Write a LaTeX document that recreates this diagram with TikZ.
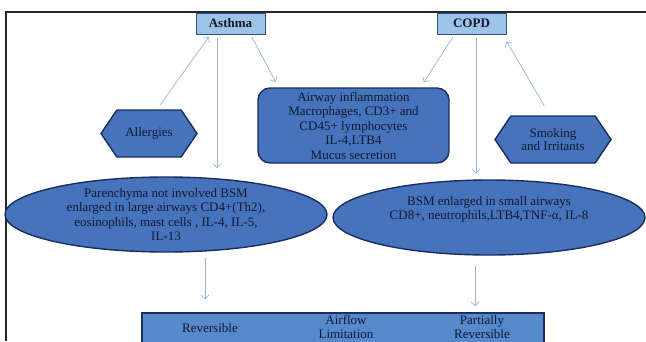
\documentclass[tikz,border=0pt]{standalone}
\usepackage{xcolor}
\usepackage{fontspec}
\setmainfont{Liberation Serif}
\usetikzlibrary{shapes.geometric,shapes.symbols,arrows.meta}
\definecolor{headfill}{RGB}{157,195,230}
\definecolor{headline}{RGB}{47,82,143}
\definecolor{cellfill}{RGB}{70,115,188}
\definecolor{cellline}{RGB}{25,45,95}
\definecolor{flowfill}{RGB}{86,136,204}
\definecolor{linkcol}{RGB}{150,180,212}
\definecolor{ink}{RGB}{15,25,50}
\definecolor{framecol}{RGB}{40,40,40}
\newcommand{\boxfont}{\fontsize{13}{14.5}\selectfont}
\tikzstyle{disease}=[draw=headline, fill=headfill, line width=1pt, minimum width=69pt, minimum height=21pt, inner sep=1pt, font=\boxfont\bfseries, text=ink]
\tikzstyle{trigger}=[signal, signal to=east and west, signal pointer angle=112, draw=cellline, fill=cellfill, line width=1.4pt, minimum width=96pt, minimum height=47pt, inner sep=1pt, align=center, font=\fontsize{13}{12.5}\selectfont, text=ink]
\tikzstyle{cell}=[rectangle, rounded corners=12pt, draw=cellline, fill=cellfill, line width=1.4pt, minimum width=191pt, minimum height=75pt, inner sep=1pt, align=center, font=\boxfont, text=ink]
\tikzstyle{site}=[ellipse, draw=cellline, fill=cellfill, line width=1.4pt, minimum height=75pt, inner sep=0pt, align=center, font=\boxfont, text=ink]
\tikzstyle{outcome}=[rectangle, draw=cellline, fill=flowfill, line width=1.4pt, minimum width=402pt, minimum height=60pt]
\tikzstyle{verdict}=[align=center, inner sep=0pt, font=\fontsize{13}{13.5}\selectfont, text=ink]
\tikzstyle{link}=[-{Straight Barb[length=4pt,width=8pt]}, draw=linkcol, line width=0.7pt]

\begin{document}
\begin{tikzpicture}[x=1pt,y=-1pt]
  \clip (0,0) rectangle (646,341);
  %% Frame
  \draw[line width=1.2pt, framecol] (646,12) -- (6,12) -- (6,341);

  \draw (230.5,23.5) node[disease] (Asthma) {Asthma};
  \draw (471.5,23.5) node[disease] (COPD) {COPD};

  \draw (149,133.5) node[trigger] (Allergy) {Allergies};
  \draw (553,139.5) node[trigger, minimum width=116pt] (Smoke) {Smoking\\and Irritants};
  \draw (353.5,125.5) node[cell] (Airway) {Airway inflammation\\Macrophages, CD3+ and\\CD45+ lymphocytes\\IL-4,LTB4\\Mucus secretion};

  \draw (166,214.5) node[site, minimum width=322pt] (Left) {Parenchyma not involved BSM\\enlarged in large airways CD4+(Th2),\\eosinophils, mast cells , IL-4, IL-5,\\IL-13};
  \draw (489,217.5) node[site, minimum width=312pt] (Right) {BSM enlarged in small airways\\CD8+, neutrophils,LTB4,TNF-α, IL-8\\[5pt]};

  \draw (343,343) node[outcome] (Flow) {};
  \draw (210,328) node[verdict] (Rev) {Reversible};
  \draw (346,327) node[verdict] (Lim) {Airflow\\Limitation};
  \draw (482,327) node[verdict] (Part) {Partially\\Reversible};

  %% Causes and effects
  \draw[link, shorten <=5pt, shorten >=3pt] ([xshift=8pt]Allergy.north) -- ([xshift=-20pt]Asthma.south);
  \draw[link, shorten <=3pt, shorten >=6pt] ([xshift=20pt]Asthma.south) -- ([xshift=-75pt]Airway.north);
  \draw[link, shorten <=3pt, shorten >=6pt] ([xshift=-17pt]COPD.south) -- ([xshift=67pt]Airway.north);
  \draw[link, shorten <=11pt, shorten >=8pt] ([xshift=-3pt]Smoke.north) -- ([xshift=31pt]COPD.south);

  %% Down to the airways
  \draw[link, shorten <=3pt, shorten >=8pt] ([xshift=-13.5pt]Asthma.south) -- ([xshift=51pt]Left.north);
  \draw[link, shorten <=3pt, shorten >=6pt] ([xshift=4.5pt]COPD.south) -- ([xshift=-13pt]Right.north);
  \draw[link, shorten <=5pt, shorten >=13pt] ([xshift=39pt]Left.south) -- ([xshift=-138pt]Flow.north);
  \draw[link, shorten <=10pt, shorten >=6pt] ([xshift=-14pt]Right.south) -- ([xshift=132pt]Flow.north);
\end{tikzpicture}
\end{document}
